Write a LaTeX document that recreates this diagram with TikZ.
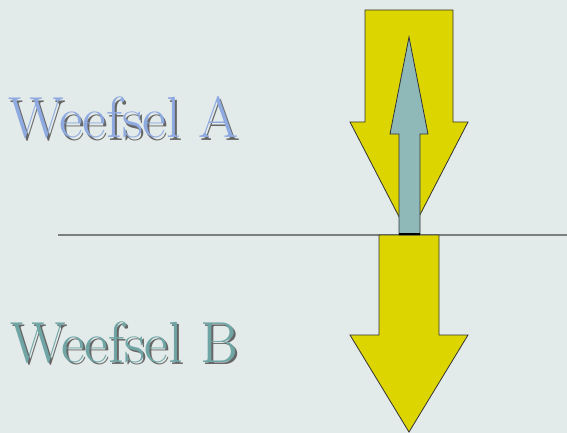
\documentclass[tikz,border=0pt]{standalone}
\definecolor{bgcol}{HTML}{E3EBEA}
\definecolor{flowyellow}{HTML}{DDD500}
\definecolor{backteal}{HTML}{8FB8B8}
\definecolor{labelA}{HTML}{8FAAE0}
\definecolor{labelB}{HTML}{6FA5A5}
\definecolor{linegray}{HTML}{7A8080}
\tikzset{
  bigarrow/.style={draw=black!80, line width=0.8pt, fill=flowyellow, line join=miter},
  smallarrow/.style={draw=black!80, line width=0.8pt, fill=backteal, line join=miter},
  tissue/.style={anchor=base west, inner sep=0pt, font=\fontsize{58}{64}\selectfont},
  shadowtext/.style={tissue, text=black!60}
}
\begin{document}
\begin{tikzpicture}[x=1pt,y=-1pt]
  % Background
  \fill[bgcol] (0,0) rectangle (567,433);
  \useasboundingbox (0,0) rectangle (567,433);
  % Tissue boundary
  \coordinate (bndL) at (58,235);
  \coordinate (bndR) at (567,235);
  \draw[linegray, line width=1.5pt] (bndL) -- (bndR);
  % Labels with shadow
  \node[shadowtext] (shadowA) at (10,140) {Weefsel A};
  \node[tissue, text=labelA] (weefselA) at (8,138) {Weefsel A};
  \node[shadowtext] (shadowB) at (12,364) {Weefsel B};
  \node[tissue, text=labelB] (weefselB) at (10,362) {Weefsel B};
  % Upper flow arrow (down)
  \draw[bigarrow] (365,10) -- (453,10) -- (453,122) -- (468,122)
    -- (409,236) -- (350,122) -- (365,122) -- cycle;
  % Lower flow arrow (down)
  \draw[bigarrow] (379,235) -- (439,235) -- (439,335) -- (468,335)
    -- (409,432) -- (350,335) -- (379,335) -- cycle;
  % Back flow arrow (up)
  \draw[smallarrow] (399,235) -- (399,134) -- (390,134) -- (409,37)
    -- (428,134) -- (420,134) -- (420,235) -- cycle;
  \draw[black, line width=2pt] (399,234) -- (420,234);
\end{tikzpicture}
\end{document}
